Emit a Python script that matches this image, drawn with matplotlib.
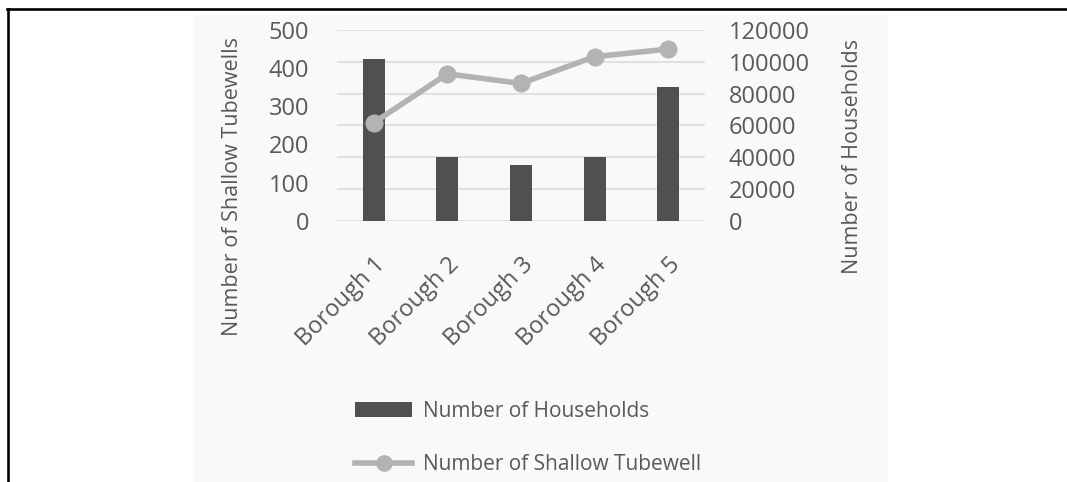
import matplotlib
matplotlib.use('Agg')
import matplotlib.pyplot as plt
from matplotlib.lines import Line2D
from matplotlib.patches import Rectangle, Patch
import matplotlib.transforms as mtransforms

categories = ['Borough 1', 'Borough 2', 'Borough 3', 'Borough 4', 'Borough 5']
households = [102000, 40000, 35000, 40000, 84000]
tubewells = [257, 385, 360, 430, 450]
left_ticks = [0, 100, 200, 300, 400, 500]
right_ticks = [0, 20000, 40000, 60000, 80000, 100000, 120000]

plt.rcParams['font.family'] = ['Open Sans', 'DejaVu Sans']

W, H = 1067, 482
fig = plt.figure(figsize=(W / 100, H / 100), dpi=100)
fig.patch.set_facecolor('white')

# chart panel background
fig.add_artist(Rectangle((193 / W, 0), (888 - 193) / W, (H - 15) / H,
                         transform=fig.transFigure, facecolor='#f9f9f9',
                         edgecolor='none', zorder=0))

# outer border (top and left)
fig.add_artist(Line2D([7 / W, 1], [1 - 9 / H, 1 - 9 / H], transform=fig.transFigure,
                      color='black', lw=1.9))
fig.add_artist(Line2D([8 / W, 8 / W], [0, 1 - 9 / H], transform=fig.transFigure,
                      color='black', lw=1.9))

ax = fig.add_axes([337 / W, (H - 220.7) / H, (705 - 337) / W, (220.7 - 30) / H])
ax.patch.set_alpha(0)
x = list(range(len(categories)))
bars = ax.bar(x, households, width=0.30, color='#505050', zorder=2)
ax.set_xlim(-0.5, len(categories) - 0.5)
ax.set_ylim(0, 120000)
ax.set_yticks(right_ticks)
ax.set_yticklabels([str(v) for v in right_ticks])
ax.grid(axis='y', color='#d9d9d9', lw=1.1)
ax.set_axisbelow(True)
for s in ax.spines.values():
    s.set_visible(False)
ax.set_xticks(x)
ax.set_xticklabels(categories, rotation=45, ha='right', va='top', rotation_mode='anchor')
ax.tick_params(axis='x', length=0, pad=23, labelsize=17, labelcolor='#595959')
off = mtransforms.ScaledTranslation(0, 0, fig.dpi_scale_trans)
for lab in ax.get_xticklabels():
    lab.set_transform(lab.get_transform() + off)

ax2 = ax.twinx()
ax2.patch.set_alpha(0)
line, = ax2.plot(x, tubewells, color='#b3b3b3', lw=4, marker='o', ms=12, zorder=3)
ax2.set_ylim(0, 500)
ax2.set_yticks(left_ticks)
ax2.yaxis.tick_left()
for s in ax2.spines.values():
    s.set_visible(False)
ax2.tick_params(axis='y', length=0, pad=20, labelsize=17, labelcolor='#595959')

# households ticks on the right (after twinx, which resets them)
ax.yaxis.tick_right()
ax.tick_params(axis='y', length=0, pad=17, labelsize=17, labelcolor='#595959')

fig.text(233 / W, 1 - 187 / H, 'Number of Shallow Tubewells', rotation=90,
         ha='center', va='center', fontsize=15.5, color='#595959')
fig.text(853 / W, 1 - 156 / H, 'Number of Households', rotation=90,
         ha='center', va='center', fontsize=15.5, color='#595959')

handles = [Patch(facecolor='#505050', edgecolor='none'),
           Line2D([], [], color='#b3b3b3', lw=4, marker='o', ms=11)]
labels = ['Number of Households', 'Number of Shallow Tubewell']
fig.legend(handles, labels, loc='upper left', bbox_to_anchor=(355 / W, 1 - 401 / H),
           frameon=False, fontsize=15, labelcolor='#595959', borderpad=0,
           borderaxespad=0, handlelength=2.75, handletextpad=0.5, labelspacing=1.55,
           handleheight=0.7)

fig.savefig('out.png', dpi=100)
